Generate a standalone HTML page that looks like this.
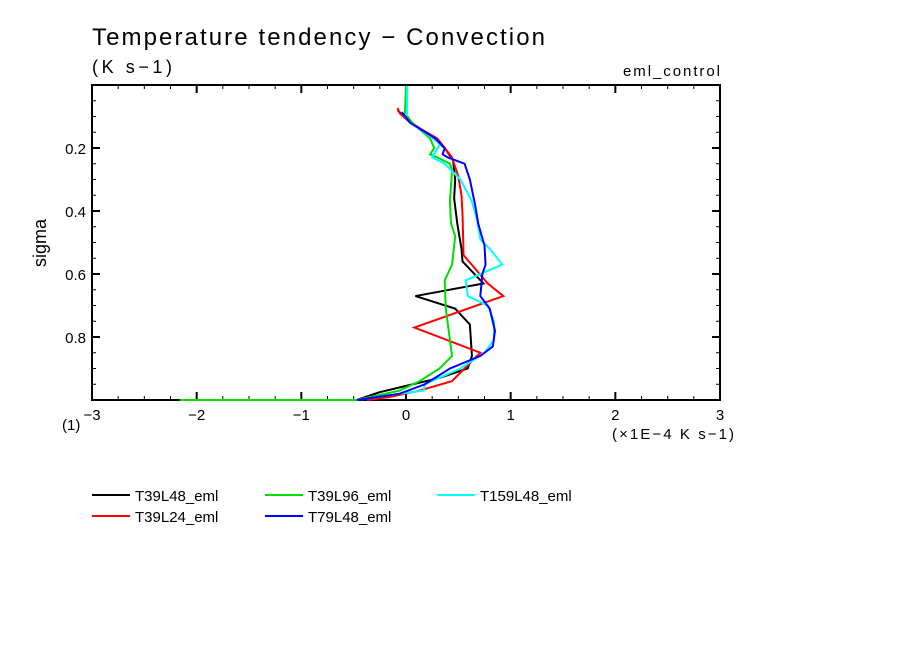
<!DOCTYPE html>
<html><head><meta charset="utf-8">
<style>
body{margin:0;background:#fff;}
svg{display:block;font-family:"Liberation Sans",sans-serif;}
</style></head>
<body>
<svg id="c" width="904" height="654" viewBox="0 0 904 654">
<text x="92" y="45" font-size="24" textLength="453" lengthAdjust="spacing">Temperature tendency − Convection</text>
<text x="92" y="73" font-size="18" textLength="80" lengthAdjust="spacing">(K s−1)</text>
<text x="720" y="76" font-size="15" text-anchor="end" textLength="97" lengthAdjust="spacing">eml_control</text>
<text x="46" y="243" font-size="18" text-anchor="middle" transform="rotate(-90 46 243)">sigma</text>
<text x="62" y="430" font-size="15">(1)</text>
<text x="734" y="439" font-size="15" text-anchor="end" textLength="122" lengthAdjust="spacing">(×1E−4 K s−1)</text>
<g id="axes"></g>
<g id="series"></g>
<g id="legend"></g>
</svg>
<script>
const seriesNames=["T39L48_eml","T39L24_eml","T39L96_eml","T79L48_eml","T159L48_eml"];
const seriesColors=["#000","#f00","#0d0","#00f","#0ff"];
const xTicks=[-3,-2,-1,0,1,2,3];
const yTicks=[0.2,0.4,0.6,0.8];
const t39l48=[[-0.08,0.08],[0.01,0.11],[0.23,0.16],[0.37,0.20],[0.45,0.24],[0.47,0.30],[0.46,0.36],[0.49,0.44],[0.53,0.52],[0.54,0.56],[0.74,0.63],[0.09,0.67],[0.47,0.71],[0.61,0.76],[0.63,0.86],[0.59,0.90],[0.32,0.93],[-0.06,0.96],[-0.25,0.975],[-0.47,1.0]];
const t39l24=[[-0.08,0.073],[-0.06,0.09],[0.04,0.12],[0.30,0.17],[0.44,0.23],[0.50,0.29],[0.53,0.35],[0.54,0.41],[0.55,0.54],[0.78,0.63],[0.93,0.67],[0.08,0.77],[0.71,0.85],[0.44,0.94],[0.13,0.97],[-0.15,0.99],[-0.37,1.0]];
const t39l96=[[0.0,0.003],[-0.01,0.09],[0.06,0.12],[0.23,0.17],[0.27,0.20],[0.23,0.22],[0.30,0.23],[0.42,0.25],[0.44,0.27],[0.42,0.37],[0.43,0.44],[0.47,0.48],[0.44,0.57],[0.37,0.62],[0.38,0.71],[0.42,0.81],[0.44,0.86],[0.32,0.90],[0.13,0.94],[-0.06,0.97],[-0.47,1.0],[-2.16,1.0]];
const t79l48=[[-0.04,0.086],[0.04,0.12],[0.28,0.17],[0.37,0.20],[0.35,0.22],[0.40,0.23],[0.56,0.25],[0.61,0.30],[0.66,0.38],[0.69,0.44],[0.75,0.51],[0.76,0.57],[0.73,0.60],[0.71,0.67],[0.80,0.71],[0.85,0.78],[0.83,0.83],[0.71,0.86],[0.42,0.90],[0.18,0.95],[-0.06,0.98],[-0.47,1.0]];
const t159l48=[[0.01,0.003],[0.01,0.09],[-0.01,0.10],[0.04,0.12],[0.13,0.14],[0.30,0.18],[0.32,0.19],[0.25,0.23],[0.37,0.25],[0.52,0.30],[0.63,0.37],[0.68,0.43],[0.71,0.49],[0.80,0.52],[0.92,0.57],[0.57,0.62],[0.59,0.67],[0.78,0.70],[0.84,0.75],[0.84,0.81],[0.75,0.85],[0.52,0.90],[0.18,0.95],[0.17,0.97],[-0.06,0.98],[-0.47,1.0]];
const allSeries=[t39l48,t39l24,t39l96,t79l48,t159l48];
const drawOrder=[0,1,2,4,3];

const L=92,R=720,T=85,B=400;
const xS=v=>L+(v+3)/6*(R-L);
const yS=v=>T+v*(B-T);
const NS="http://www.w3.org/2000/svg";
function mk(tag,attrs,parent){const e=document.createElementNS(NS,tag);for(const k in attrs)e.setAttribute(k,attrs[k]);parent.appendChild(e);return e;}
const ax=document.getElementById('axes');
const frame=mk('rect',{x:L,y:T,width:R-L,height:B-T,fill:'none',stroke:'#000','stroke-width':2},ax);


for(let v=-3;v<=3.001;v+=0.25){
  const maj=Math.abs(v-Math.round(v))<1e-6;const len=maj?8:4;const x=xS(v);
  const t1=mk('line',{x1:x,y1:B,x2:x,y2:B-len,stroke:'#000','stroke-width':maj?2:1},ax);
  
  
  const t2=mk('line',{x1:x,y1:T,x2:x,y2:T+len,stroke:'#000','stroke-width':maj?2:1},ax);
  
  
}
xTicks.forEach(v=>{
  const t=mk('text',{x:xS(v),y:B+20,'font-size':15,'text-anchor':'middle'},ax);
  t.textContent=v<0?'−'+Math.abs(v):String(v);
  
  
});
for(let v=0.05;v<1;v+=0.05){
  const r=Math.round(v*100);const maj=r%20===0;const len=maj?8:4;const y=yS(v);
  const a=mk('line',{x1:L,y1:y,x2:L+len,y2:y,stroke:'#000','stroke-width':maj?2:1},ax);
  
  
  const b=mk('line',{x1:R,y1:y,x2:R-len,y2:y,stroke:'#000','stroke-width':maj?2:1},ax);
  
  
}
yTicks.forEach(v=>{
  const t=mk('text',{x:L-6,y:yS(v)+6,'font-size':15,'text-anchor':'end'},ax);
  t.textContent=v.toFixed(1);
  
  
});
const sg=document.getElementById('series');
drawOrder.forEach(i=>{
  const p=mk('polyline',{points:allSeries[i].map(d=>xS(d[0])+','+yS(d[1])).join(' '),fill:'none',stroke:seriesColors[i],'stroke-width':2,'stroke-linejoin':'miter'},sg);
  
  
});
const lg=document.getElementById('legend');
const pos=[[92,495],[92,516],[265,495],[265,516],[437,495]];
seriesNames.forEach((n,i)=>{
  const g=mk('g',{},lg);
  
  
  const [x,y]=pos[i];
  mk('line',{x1:x,y1:y,x2:x+38,y2:y,stroke:seriesColors[i],'stroke-width':2},g);
  const t=mk('text',{x:x+43,y:y+6,'font-size':15},g);
  t.textContent=n;
});
</script>
</body></html>
